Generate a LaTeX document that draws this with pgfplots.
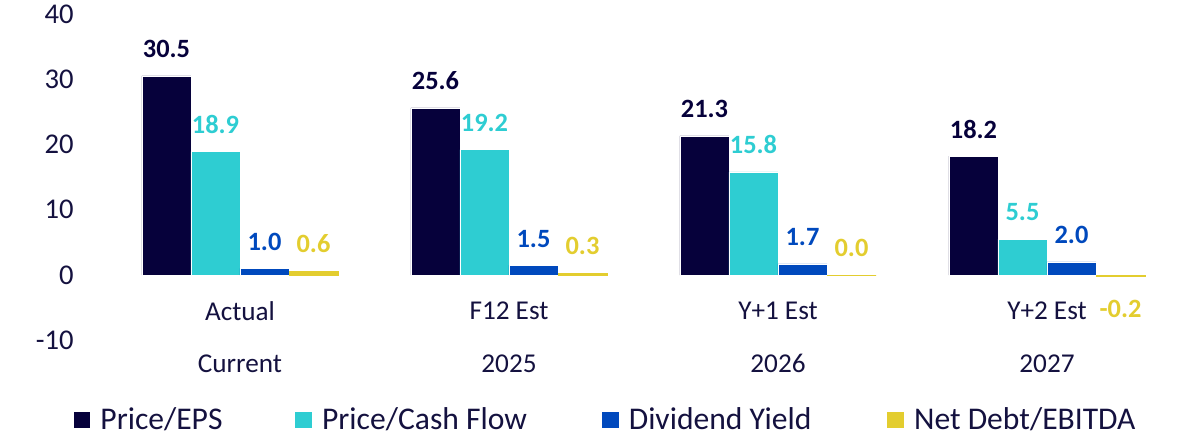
\documentclass[border=0pt]{standalone}
\usepackage{pgfplots}
\pgfplotsset{compat=1.18}
\usepackage{fontspec}
\setmainfont{Carlito}
\definecolor{cNavy}{HTML}{06013B}
\definecolor{cCyan}{HTML}{2ECDD2}
\definecolor{cBlue}{HTML}{0049BD}
\definecolor{cYellow}{HTML}{E3CD2F}
\definecolor{cText}{HTML}{14113F}
\begin{document}
\begin{tikzpicture}
\begin{axis}[
  at={(52.75pt,51.85pt)}, anchor=south west,
  scale only axis, width=538pt, height=163.2pt,
  xmin=-0.5, xmax=3.5, ymin=-10, ymax=40,
  clip=false,
  ybar=0pt, bar width=24.5pt,
  axis line style={draw=none},
  major tick length=0pt,
  tick style={draw=none},
  ytick={-10,0,10,20,30,40},
  xtick={0,1,2,3},
  xticklabels={{Actual\\Current},{F12 Est\\2025},{Y+1 Est\\2026},{Y+2 Est\\2027}},
  xticklabel style={align=center, anchor=center, inner sep=0pt, yshift=1.5pt,
    font=\fontsize{13.6}{26.2}\selectfont, text=cText},
  yticklabel style={anchor=east, inner sep=0pt, xshift=-15.75pt,
    font=\fontsize{14.3}{16}\selectfont, text=cText},
  /pgf/number format/assume math mode=true,
  nodes near coords,
  nodes near coords style={font=\bfseries\fontsize{13.2}{16}\selectfont, inner sep=0pt,
    /pgf/number format/fixed, /pgf/number format/fixed zerofill,
    /pgf/number format/precision=1, /pgf/number format/assume math mode=true},
  visualization depends on={y \as \rawy},
  every node near coord/.append style={yshift={(\rawy<0) ? -11.5 : 8.85}},
  legend columns=4,
  legend style={draw=none, fill=none, inner sep=0pt,
    at={(axis description cs:-0.0299,-0.2442)}, anchor=west,
    font=\fontsize{15.8}{18}\selectfont, text=cText,
    nodes={inner sep=0pt, anchor=west},
    /tikz/every odd column/.append style={column sep=5pt}},
  mylegend/.style={legend image code/.code={\fill[##1, draw=none] (0pt,-4.17pt) rectangle (8.35pt,4.17pt);}},
]
\addplot[fill=cNavy, draw=white, line width=0.3pt, mylegend,
  every node near coord/.append style={text=cNavy}]
  coordinates {(0,30.5) (1,25.6) (2,21.3) (3,18.2)};
\addplot[fill=cCyan, draw=white, line width=0.3pt, mylegend,
  every node near coord/.append style={text=cCyan}]
  coordinates {(0,18.9) (1,19.2) (2,15.8) (3,5.5)};
\addplot[fill=cBlue, draw=white, line width=0.3pt, mylegend,
  every node near coord/.append style={text=cBlue}]
  coordinates {(0,1.0) (1,1.5) (2,1.7) (3,2.0)};
\addplot[fill=cYellow, draw=cYellow, line width=0.4pt, mylegend,
  every node near coord/.append style={text=cYellow}]
  coordinates {(0,0.6) (1,0.3) (2,0.0) (3,-0.2)};
\legend{{\makebox[97.5pt][l]{Price/EPS}},{\makebox[140pt][l]{Price/Cash Flow}},{\makebox[129.3pt][l]{Dividend Yield}},{Net Debt/EBITDA}}
\end{axis}
\pgfresetboundingbox
\path (0,0) rectangle (600pt,222pt);
\end{tikzpicture}
\end{document}
